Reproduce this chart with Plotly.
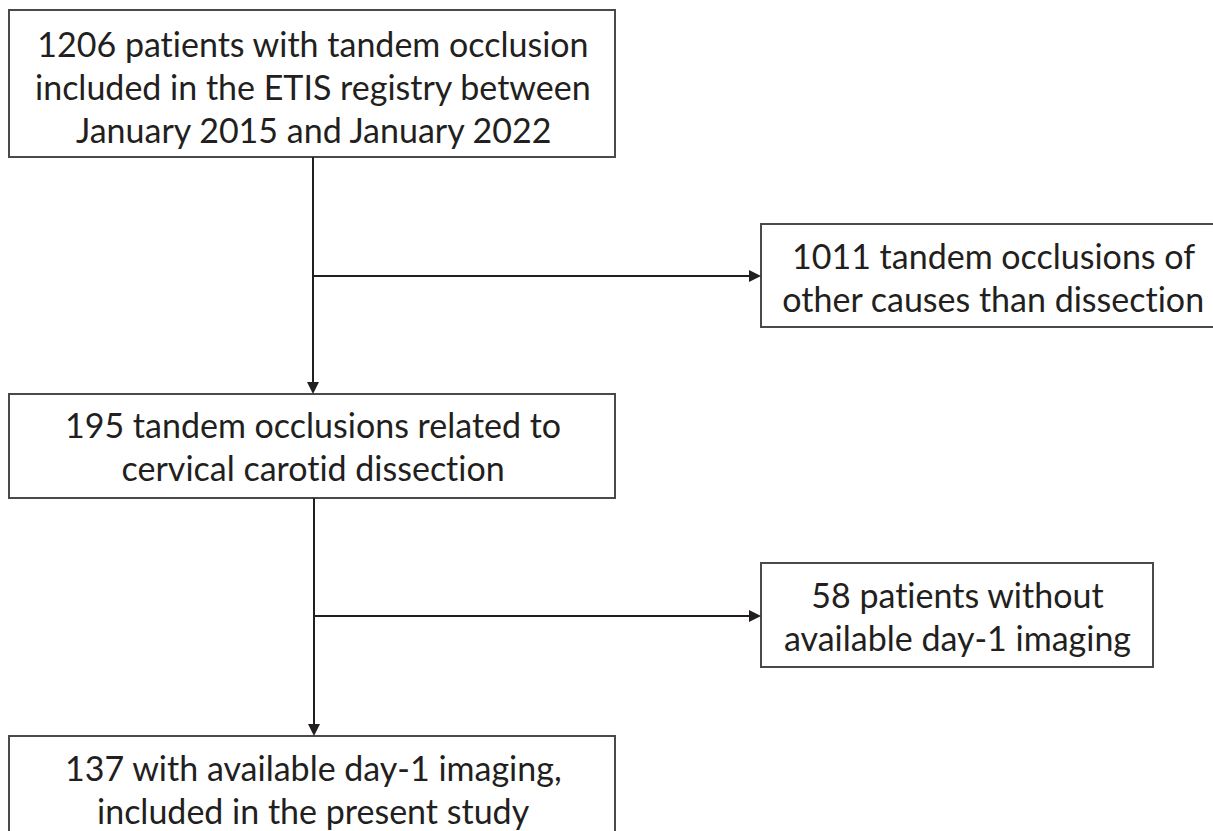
import plotly.graph_objects as go

W, H = 1213, 831

# Box contents (lines of text)
box_texts = [
    ["1206 patients with tandem occlusion",
     "included in the ETIS registry between",
     "January 2015 and January 2022"],
    ["1011 tandem occlusions of",
     "other causes than dissection"],
    ["195 tandem occlusions related to",
     "cervical carotid dissection"],
    ["58 patients without",
     "available day-1 imaging"],
    ["137 with available day-1 imaging,",
     "included in the present study"],
]
# Box geometry in pixels: x0, y0, x1, y1
box_x0 = [9, 761, 9, 761, 9]
box_y0 = [10, 224, 394, 563, 736]
box_x1 = [615, 1226, 615, 1153, 615]
box_y1 = [157, 327, 498, 667, 880]
text_cx = [313, 993, 313, 957, 313]
text_y1 = [43, 255, 424, 594, 767]   # centre of first line
line_gap = 43

# Connectors
trunk_x = [313, 314]
trunk_y0 = [157, 498]
trunk_y1 = [394, 736]
branch_y = [276, 616]
branch_x1 = [761, 761]

ink = "#231f20"
box_col = "#4a4a4a"
ah = 12

fig = go.Figure()
shapes = []
annotations = []

for i, lines in enumerate(box_texts):
    shapes.append(dict(type="rect", x0=box_x0[i], y0=box_y0[i], x1=box_x1[i], y1=box_y1[i],
                       line=dict(color=box_col, width=2), fillcolor="white", layer="below"))
    for k, t in enumerate(lines):
        annotations.append(dict(x=text_cx[i], y=text_y1[i] + k * line_gap, xref="x", yref="y",
                                text=t, showarrow=False, xanchor="center", yanchor="middle",
                                font=dict(family="Lato, Carlito, Calibri, sans-serif", size=34, color=ink)))

for j in range(2):
    x = trunk_x[j]
    shapes.append(dict(type="line", x0=x, y0=trunk_y0[j], x1=x, y1=trunk_y1[j] - ah,
                       line=dict(color=ink, width=2)))
    shapes.append(dict(type="path",
                       path=f"M {x-6},{trunk_y1[j]-ah} L {x+6},{trunk_y1[j]-ah} L {x},{trunk_y1[j]} Z",
                       fillcolor=ink, line=dict(color=ink, width=0)))
    yb = branch_y[j]
    shapes.append(dict(type="line", x0=x, y0=yb, x1=branch_x1[j] - ah, y1=yb,
                       line=dict(color=ink, width=2)))
    shapes.append(dict(type="path",
                       path=f"M {branch_x1[j]-ah},{yb-6} L {branch_x1[j]-ah},{yb+6} L {branch_x1[j]},{yb} Z",
                       fillcolor=ink, line=dict(color=ink, width=0)))

fig.update_layout(
    width=W, height=H,
    margin=dict(l=0, r=0, t=0, b=0),
    paper_bgcolor="white", plot_bgcolor="white",
    xaxis=dict(range=[0, W], visible=False, fixedrange=True),
    yaxis=dict(range=[H, 0], visible=False, fixedrange=True),
    shapes=shapes, annotations=annotations, showlegend=False,
)

post = ("var s=document.createElement('style');"
        "s.textContent='html,body{margin:0;padding:0;overflow:hidden} text{font-variant-ligatures:none !important}';"
        "document.head.appendChild(s);")
fig.write_html("out.html", post_script=post, config={"displayModeBar": False})
